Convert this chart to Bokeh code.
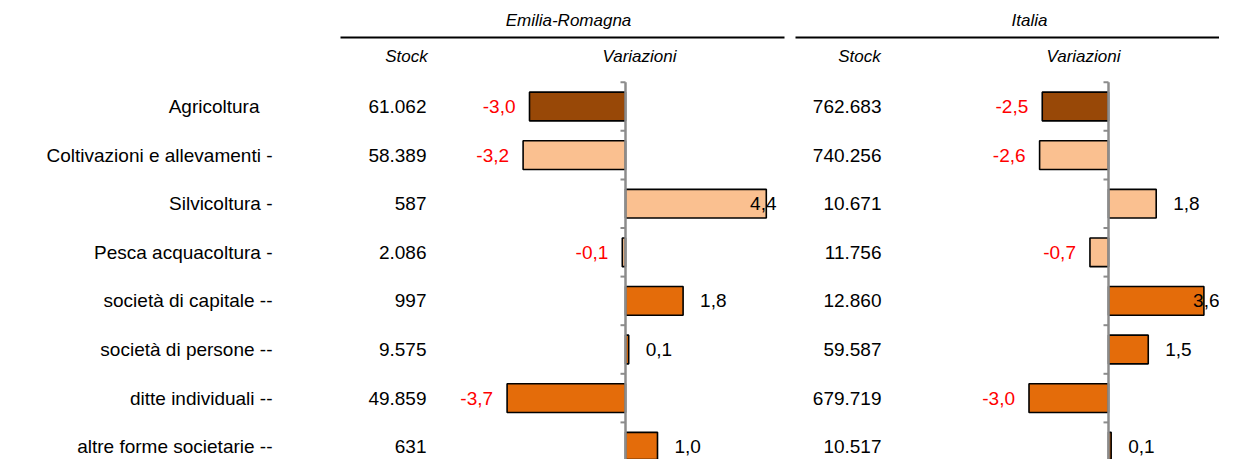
from bokeh.plotting import figure
from bokeh.models import Range1d, ColumnDataSource
from bokeh.embed import file_html
from bokeh.resources import INLINE
from bokeh.core.properties import value

# ---------------- data ----------------
categories = [
    "Agricoltura",
    "Coltivazioni e allevamenti -",
    "Silvicoltura -",
    "Pesca acquacoltura -",
    "società di capitale --",
    "società di persone --",
    "ditte individuali --",
    "altre forme societarie --",
]
row_kind = ["totale", "settore", "settore", "settore", "forma", "forma", "forma", "forma"]
stock_er = [61062, 58389, 587, 2086, 997, 9575, 49859, 631]
var_er = [-3.0, -3.2, 4.4, -0.1, 1.8, 0.1, -3.7, 1.0]
stock_it = [762683, 740256, 10671, 11756, 12860, 59587, 679719, 10517]
var_it = [-2.5, -2.6, 1.8, -0.7, 3.6, 1.5, -3.0, 0.1]
regions = ["Emilia-Romagna", "Italia"]
col_headers = ["Stock", "Variazioni"]

# ---------------- layout constants (reference pixel frame) ----------------
W, H = 1219, 459
LEFT, TOP = 0, 0
ROW0, ROWH = 106.0, 48.6
ER_ZERO, ER_PX = 625.0, 32.0
IT_ZERO, IT_PX = 1108.0, 26.5
FONT = value("Liberation Sans")
FS = "19px"
HFS = "17px"
KIND_COLOR = {"totale": "#984807", "settore": "#FAC090", "forma": "#E46C0A"}


def row_of(py):
    return (py - ROW0) / ROWH


p = figure(width=W, height=H, output_backend="svg", toolbar_location=None,
           x_range=Range1d(LEFT, LEFT + W),
           y_range=Range1d(row_of(TOP + H), row_of(TOP)),
           x_axis_location=None, y_axis_location=None, min_border=0)
p.grid.visible = False
p.outline_line_color = None
p.background_fill_color = "white"
p.border_fill_color = "white"

p.extra_x_ranges = {
    "er": Range1d((LEFT - ER_ZERO) / ER_PX, (LEFT + W - ER_ZERO) / ER_PX),
    "it": Range1d((LEFT - IT_ZERO) / IT_PX, (LEFT + W - IT_ZERO) / IT_PX),
}

rows = list(range(len(categories)))
colors = [KIND_COLOR[k] for k in row_kind]

# category labels
cat_off = [0 if c.endswith("-") else -13 for c in categories]
p.text(x=[272] * len(rows), y=rows, text=categories, x_offset=cat_off,
       text_align="right", text_baseline="middle", text_font=FONT,
       text_font_size=FS, text_color="black")


def fmt_stock(v):
    return f"{v:,}".replace(",", ".")


def fmt_var(v):
    return f"{v:.1f}".replace(".", ",")


def panel(name, stocks, vals, stock_x, zero, px, limit):
    p.text(x=[stock_x] * len(rows), y=rows, text=[fmt_stock(s) for s in stocks],
           text_align="right", text_baseline="middle", text_font=FONT,
           text_font_size=FS, text_color="black")
    src = ColumnDataSource(dict(y=rows, right=vals, color=colors))
    p.hbar(y="y", left=0, right="right", height=0.59, source=src, x_range_name=name,
           fill_color="color", line_color="black", line_width=1.6)
    # axis line at zero and tick marks at category boundaries
    p.segment(x0=[0], x1=[0], y0=[-0.5], y1=[len(rows) - 0.5], x_range_name=name,
              line_color="#8c8c8c", line_width=2.5)
    bounds = [i - 0.5 for i in range(len(rows) + 1)]
    p.segment(x0=[-5 / px] * len(bounds), x1=[0] * len(bounds), y0=bounds, y1=bounds,
              x_range_name=name, line_color="#8c8c8c", line_width=2)
    offs, aligns, tcols = [], [], []
    for v in vals:
        end = zero + v * px
        if v < 0:
            offs.append(-14); aligns.append("right"); tcols.append("#FF0000")
        else:
            tcols.append("black")
            if end + 17 + 28 > limit:
                offs.append(limit - end); aligns.append("right")
            else:
                offs.append(17); aligns.append("left")
    lsrc = ColumnDataSource(dict(x=vals, y=rows, t=[fmt_var(v) for v in vals],
                                 off=offs, al=aligns, c=tcols))
    p.text(x="x", y="y", text="t", x_offset="off", text_align="al", source=lsrc,
           x_range_name=name, text_baseline="middle", text_font=FONT,
           text_font_size=FS, text_color="c")


panel("er", stock_er, var_er, 426, ER_ZERO, ER_PX, 776)
panel("it", stock_it, var_it, 881, IT_ZERO, IT_PX, LEFT + W)

# headers
p.text(x=[568, 1029], y=[row_of(20)] * 2, text=regions, text_align="center",
       text_baseline="middle", text_font=FONT, text_font_size=HFS,
       text_font_style="italic", text_color="black")
p.text(x=[406, 639, 859, 1083], y=[row_of(56)] * 4, text=col_headers * 2,
       text_align="center", text_baseline="middle", text_font=FONT,
       text_font_size=HFS, text_font_style="italic", text_color="black")
p.segment(x0=[340, 795], x1=[784, 1240], y0=[row_of(37)] * 2, y1=[row_of(37)] * 2,
          line_color="black", line_width=2)

open("out.html", "w").write(file_html(p, INLINE))
